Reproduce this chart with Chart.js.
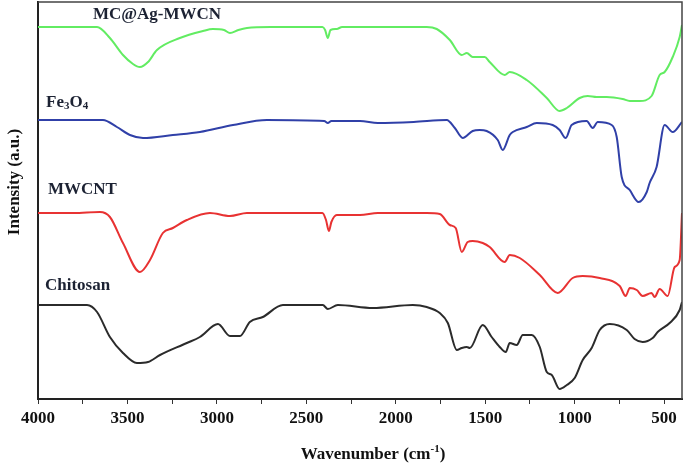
<!DOCTYPE html>
<html>
<head>
<meta charset="utf-8">
<script src="https://cdn.jsdelivr.net/npm/chart.js@4.4.0/dist/chart.umd.min.js"></script>
<style>
    html, body { margin: 0; padding: 0; background: #fff; }
    #wrap { width: 685px; height: 468px; }
</style>
</head>
<body>
<div id="wrap"><canvas id="ftir_chart" width="685" height="468"></canvas></div>
<script>
// FTIR spectra, intensity in arbitrary units
const mcWn = [4000, 3800, 3670, 3598, 3525, 3469, 3430, 3385, 3335, 3207, 3078, 3022, 2960, 2927, 2880, 2832, 2700, 2410, 2395, 2380, 2365, 2330, 2300, 2000, 1827, 1771, 1698, 1631, 1603, 1570, 1503, 1475, 1391, 1363, 1268, 1156, 1084, 1044, 972, 927, 877, 821, 732, 692, 637, 570, 525, 497, 452, 413, 400];
const mcInt = [372, 372, 372, 361, 344, 335, 332, 337, 349, 361, 368, 370, 369, 366, 369, 371, 372, 372, 369, 361, 369, 370, 372, 372, 372, 370, 359, 344, 346, 342, 342, 337, 324, 327, 319, 301, 288, 291, 301, 303, 302, 302, 300, 298, 298, 303, 324, 327, 342, 362, 374];

const fe3o4Wn = [4000, 3800, 3637, 3559, 3486, 3413, 3246, 3095, 2910, 2720, 2400, 2380, 2360, 2200, 2100, 1900, 1715, 1670, 1626, 1570, 1531, 1492, 1430, 1402, 1363, 1346, 1268, 1212, 1123, 1084, 1050, 1017, 933, 899, 871, 793, 765, 737, 692, 642, 597, 581, 542, 497, 452, 400];
const fe3o4Int = [279, 279, 279, 272, 264, 261, 264, 267, 274, 279, 278, 276, 278, 278, 276, 277, 279, 271, 261, 268, 269, 268, 259, 249, 264, 267, 272, 276, 274, 269, 261, 274, 278, 271, 277, 274, 262, 222, 209, 197, 207, 216, 232, 274, 267, 277];

const mwcntWn = [4000, 3800, 3654, 3598, 3525, 3430, 3374, 3302, 3246, 3168, 3039, 2927, 2832, 2410, 2390, 2374, 2360, 2330, 2200, 2100, 1900, 1827, 1754, 1698, 1665, 1631, 1598, 1570, 1514, 1475, 1391, 1363, 1307, 1195, 1095, 1011, 955, 860, 748, 715, 692, 653, 620, 570, 553, 525, 480, 441, 413, 400];
const mwcntInt = [186, 186, 187, 182, 156, 127, 139, 166, 171, 179, 186, 183, 186, 186, 179, 168, 177, 184, 184, 186, 186, 186, 185, 174, 171, 147, 157, 158, 156, 152, 137, 144, 141, 124, 106, 121, 123, 121, 113, 103, 111, 109, 103, 106, 102, 110, 103, 132, 139, 186];

const chitosanWn = [4000, 3800, 3726, 3670, 3598, 3525, 3447, 3385, 3318, 3168, 3095, 2994, 2927, 2871, 2816, 2743, 2631, 2408, 2380, 2324, 2128, 1905, 1827, 1754, 1709, 1659, 1631, 1603, 1586, 1514, 1464, 1419, 1385, 1363, 1324, 1290, 1240, 1195, 1156, 1128, 1084, 1044, 1000, 955, 905, 860, 804, 709, 665, 620, 564, 536, 469, 413, 400];
const chitosanInt = [94, 94, 94, 87, 62, 46, 36, 37, 44, 56, 62, 75, 63, 63, 77, 82, 94, 94, 90, 94, 91, 94, 92, 86, 76, 49, 51, 52, 51, 74, 62, 52, 47, 56, 54, 64, 64, 52, 27, 24, 10, 14, 21, 39, 51, 69, 75, 69, 60, 57, 61, 67, 76, 89, 97];

// x axis ticks: every 250, labelled every 500
const xTickValues = [4000, 3750, 3500, 3250, 3000, 2750, 2500, 2250, 2000, 1750, 1500, 1250, 1000, 750, 500];

const serif = "'Liberation Serif', 'Times New Roman', serif";

const toPoints = (wn, vals) => wn.map((w, i) => ({ x: w, y: vals[i] }));

// name drawn next to each trace: wavenumber where the text starts and intensity level of its centre
const traceNames = [
    { parts: [["MC@Ag-MWCN", 0]], wn: 3693, level: 384 },
    { parts: [["Fe", 0], ["3", 1], ["O", 0], ["4", 1]], wn: 3955, level: 296 },
    { parts: [["MWCNT", 0]], wn: 3944, level: 209 },
    { parts: [["Chitosan", 0]], wn: 3961, level: 113 },
];

const decorPlugin = {
    id: "ftirDecor",
    afterDraw(chart) {
        const ctx = chart.ctx;
        const area = chart.chartArea;
        const xs = chart.scales.x;
        const ys = chart.scales.y;

        ctx.save();
        // frame: top and right sides
        ctx.strokeStyle = "#444";
        ctx.lineWidth = 1.5;
        ctx.beginPath();
        ctx.moveTo(area.left, area.top);
        ctx.lineTo(area.right, area.top);
        ctx.lineTo(area.right, area.bottom);
        ctx.stroke();

        // trace names
        ctx.fillStyle = "#1c2233";
        ctx.textBaseline = "middle";
        ctx.textAlign = "left";
        traceNames.forEach((item) => {
            let x = xs.getPixelForValue(item.wn);
            const y = ys.getPixelForValue(item.level);
            item.parts.forEach(([txt, sub]) => {
                ctx.font = sub ? "bold 11px " + serif : "bold 17px " + serif;
                ctx.fillText(txt, x, sub ? y + 3 : y);
                x += ctx.measureText(txt).width;
            });
        });

        // y axis title
        ctx.fillStyle = "#111";
        ctx.font = "bold 17px " + serif;
        ctx.textAlign = "center";
        ctx.translate(15, 182);
        ctx.rotate(-Math.PI / 2);
        ctx.fillText("Intensity (a.u.)", 0, 0);
        ctx.restore();

        // x axis title with superscript
        ctx.save();
        ctx.fillStyle = "#111";
        ctx.textBaseline = "middle";
        ctx.textAlign = "left";
        const big = "bold 17px " + serif;
        const small = "bold 11px " + serif;
        const pieces = [["Wavenumber (cm", big, 0], ["-1", small, -6], [")", big, 0]];
        let total = 0;
        pieces.forEach(([t, f]) => { ctx.font = f; total += ctx.measureText(t).width; });
        let tx = 373 - total / 2;
        pieces.forEach(([t, f, dy]) => {
            ctx.font = f;
            ctx.fillText(t, tx, 455 + dy);
            tx += ctx.measureText(t).width;
        });
        ctx.restore();
    },
};

const makeSet = (label, wn, vals, color) => ({
    label: label,
    data: toPoints(wn, vals),
    borderColor: color,
    backgroundColor: color,
    borderWidth: 2,
    pointRadius: 0,
    showLine: true,
    cubicInterpolationMode: "monotone",
    fill: false,
});

var ftirCtx = document.getElementById("ftir_chart").getContext("2d");
var ftirChart = new Chart(ftirCtx, {
    type: "scatter",
    data: {
        datasets: [
            makeSet("MC@Ag-MWCN", mcWn, mcInt, "#62ec62"),
            makeSet("Fe3O4", fe3o4Wn, fe3o4Int, "#3040a8"),
            makeSet("MWCNT", mwcntWn, mwcntInt, "#e83232"),
            makeSet("Chitosan", chitosanWn, chitosanInt, "#2b2b2b"),
        ],
    },
    options: {
        responsive: false,
        animation: false,
        layout: {
            padding: { top: 2, right: 3, left: 0, bottom: 0 },
        },
        plugins: {
            legend: { display: false },
            tooltip: { enabled: false },
        },
        scales: {
            x: {
                type: "linear",
                reverse: true,
                min: 400,
                max: 4000,
                afterBuildTicks: (scale) => {
                    scale.ticks = xTickValues.map((v) => ({ value: v }));
                },
                afterFit: (scale) => {
                    scale.height = 69;
                },
                ticks: {
                    autoSkip: false,
                    maxRotation: 0,
                    padding: 4,
                    color: "#111",
                    font: { family: serif, size: 17, weight: "bold" },
                    callback: (v) => (v % 500 === 0 ? String(v) : ""),
                },
                grid: {
                    drawOnChartArea: false,
                    drawTicks: true,
                    tickLength: 5,
                    color: "#333",
                },
                border: { color: "#222", width: 2 },
            },
            y: {
                min: 0,
                max: 397,
                afterFit: (scale) => {
                    scale.width = 38;
                },
                ticks: { display: false },
                grid: { display: false, drawTicks: false },
                border: { color: "#222", width: 2 },
            },
        },
    },
    plugins: [decorPlugin],
});
</script>
</body>
</html>
